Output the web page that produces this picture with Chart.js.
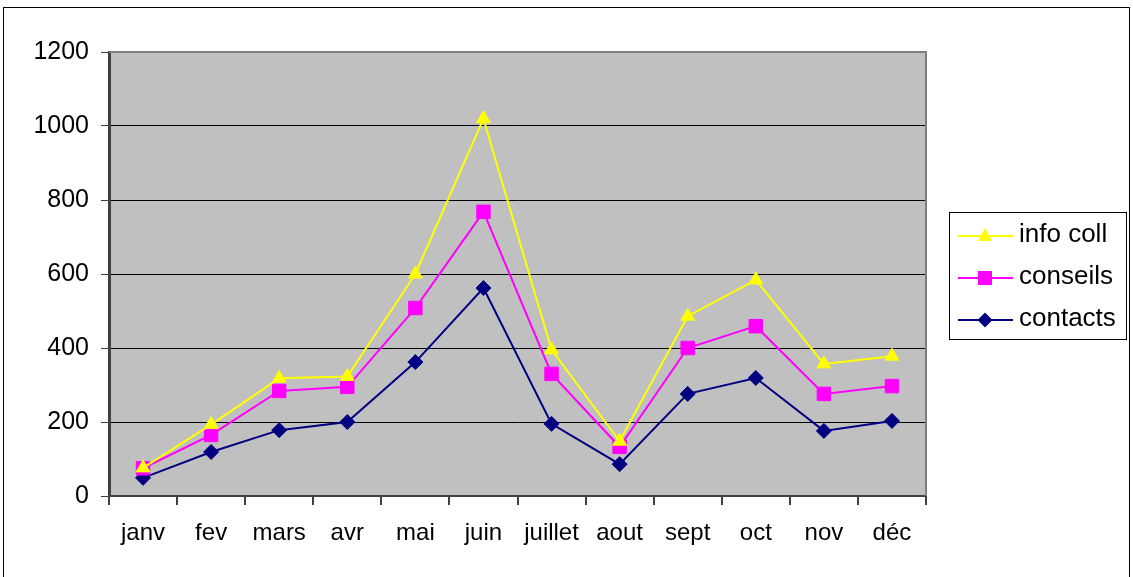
<!DOCTYPE html>
<html>
<head>
<meta charset="utf-8">
<script src="https://cdn.jsdelivr.net/npm/chart.js@4/dist/chart.umd.min.js"></script>
<style>
html,body{margin:0;padding:0;background:#fff;}
#wrap{width:1133px;height:577px;position:relative;}
</style>
</head>
<body>
<div id="wrap"><canvas id="c" width="1133" height="577"></canvas></div>
<script>
const categories = ["janv","fev","mars","avr","mai","juin","juillet","aout","sept","oct","nov","déc"];
const infoColl = [76, 193, 318, 323, 600, 1020, 395, 148, 486, 584, 357, 378];
const conseils = [75, 165, 284, 295, 508, 768, 330, 133, 400, 459, 276, 297];
const contacts = [49, 119, 178, 200, 362, 562, 195, 86, 276, 319, 176, 203];
const seriesLabels = ["info coll","conseils","contacts"];
const yTicks = [0,200,400,600,800,1000,1200];

const FONT = "'Liberation Sans', Arial, sans-serif";

const framePlugin = {
  id: 'frame',
  beforeDraw(chart){
    const ctx = chart.ctx, a = chart.chartArea;
    ctx.save();
    ctx.fillStyle = '#fff';
    ctx.fillRect(0,0,chart.width,chart.height);
    ctx.strokeStyle = '#000';
    ctx.lineWidth = 1;
    ctx.strokeRect(3.5, 7.5, 1126, 600);
    ctx.fillStyle = '#C0C0C0';
    ctx.fillRect(a.left, a.top, a.right - a.left, a.bottom - a.top);
    ctx.restore();
  },
  afterDatasetsDraw(chart){
    const ctx = chart.ctx, a = chart.chartArea;
    ctx.save();
    ctx.strokeStyle = '#808080';
    ctx.lineWidth = 2;
    ctx.beginPath();
    ctx.moveTo(a.left, a.top);
    ctx.lineTo(a.right, a.top);
    ctx.lineTo(a.right, a.bottom);
    ctx.stroke();
    ctx.restore();
  },
  afterDraw(chart){
    const ctx = chart.ctx;
    ctx.save();
    ctx.fillStyle = '#fff';
    ctx.fillRect(949.5, 212.5, 177, 127);
    ctx.strokeStyle = '#000';
    ctx.lineWidth = 1;
    ctx.strokeRect(949.5, 212.5, 177, 127);
    const ys = [236, 278, 320];
    chart.data.datasets.forEach((ds, i) => {
      const y = ys[i];
      ctx.strokeStyle = ds.borderColor;
      ctx.lineWidth = 2;
      ctx.beginPath();
      ctx.moveTo(958, y);
      ctx.lineTo(1013, y);
      ctx.stroke();
      ctx.fillStyle = ds.pointBackgroundColor;
      const cx = 985;
      ctx.beginPath();
      if (ds.pointStyle === 'triangle') {
        ctx.moveTo(cx, y - 8); ctx.lineTo(cx + 7, y + 5); ctx.lineTo(cx - 7, y + 5);
      } else if (ds.pointStyle === 'rect') {
        ctx.rect(cx - 7, y - 7, 14, 14);
      } else {
        ctx.moveTo(cx, y - 7.5); ctx.lineTo(cx + 7.5, y); ctx.lineTo(cx, y + 7.5); ctx.lineTo(cx - 7.5, y);
      }
      ctx.closePath();
      ctx.fill();
      ctx.fillStyle = '#000';
      ctx.font = '26px ' + FONT;
      ctx.textBaseline = 'middle';
      ctx.textAlign = 'left';
      ctx.fillText(ds.label, 1019, y - 1);
    });
    ctx.restore();
  }
};

new Chart(document.getElementById('c'), {
  type: 'line',
  data: {
    labels: categories,
    datasets: [
      {label: seriesLabels[0], data: infoColl, borderColor: '#FFFF00', backgroundColor: '#FFFF00',
       pointBackgroundColor: '#FFFF00', pointBorderColor: '#FFFF00', pointStyle: 'triangle', pointRadius: 8, borderWidth: 2, pointBorderWidth: 1},
      {label: seriesLabels[1], data: conseils, borderColor: '#FF00FF', backgroundColor: '#FF00FF',
       pointBackgroundColor: '#FF00FF', pointBorderColor: '#FF00FF', pointStyle: 'rect', pointRadius: 9.5, borderWidth: 2, pointBorderWidth: 1},
      {label: seriesLabels[2], data: contacts, borderColor: '#000080', backgroundColor: '#000080',
       pointBackgroundColor: '#000080', pointBorderColor: '#000080', pointStyle: 'rectRot', pointRadius: 7.5, borderWidth: 2, pointBorderWidth: 1}
    ]
  },
  options: {
    responsive: false,
    animation: false,
    events: [],
    layout: {padding: {left: 0, right: 1133 - 926, top: 52, bottom: 0}},
    plugins: {legend: {display: false}, tooltip: {enabled: false}},
    scales: {
      x: {
        offset: true,
        grid: {offset: true, drawOnChartArea: false, tickLength: 9, color: '#404040', lineWidth: 2},
        border: {display: true, color: '#404040', width: 2},
        ticks: {color: '#000', font: {family: FONT, size: 24}, padding: 14, maxRotation: 0, autoSkip: false},
        afterFit(s){ s.height = 577 - 496; }
      },
      y: {
        min: 0, max: 1200,
        afterBuildTicks(s){ s.ticks = yTicks.map(v => ({value: v})); },
        grid: {color: '#000', lineWidth: 1, tickLength: 8, tickColor: '#404040', drawTicks: true},
        border: {display: true, color: '#404040', width: 3},
        ticks: {color: '#000', font: {family: FONT, size: 25}, padding: 12, callback: v => String(v)},
        afterFit(s){ s.width = 109; }
      }
    }
  },
  plugins: [framePlugin]
});
</script>
</body>
</html>
